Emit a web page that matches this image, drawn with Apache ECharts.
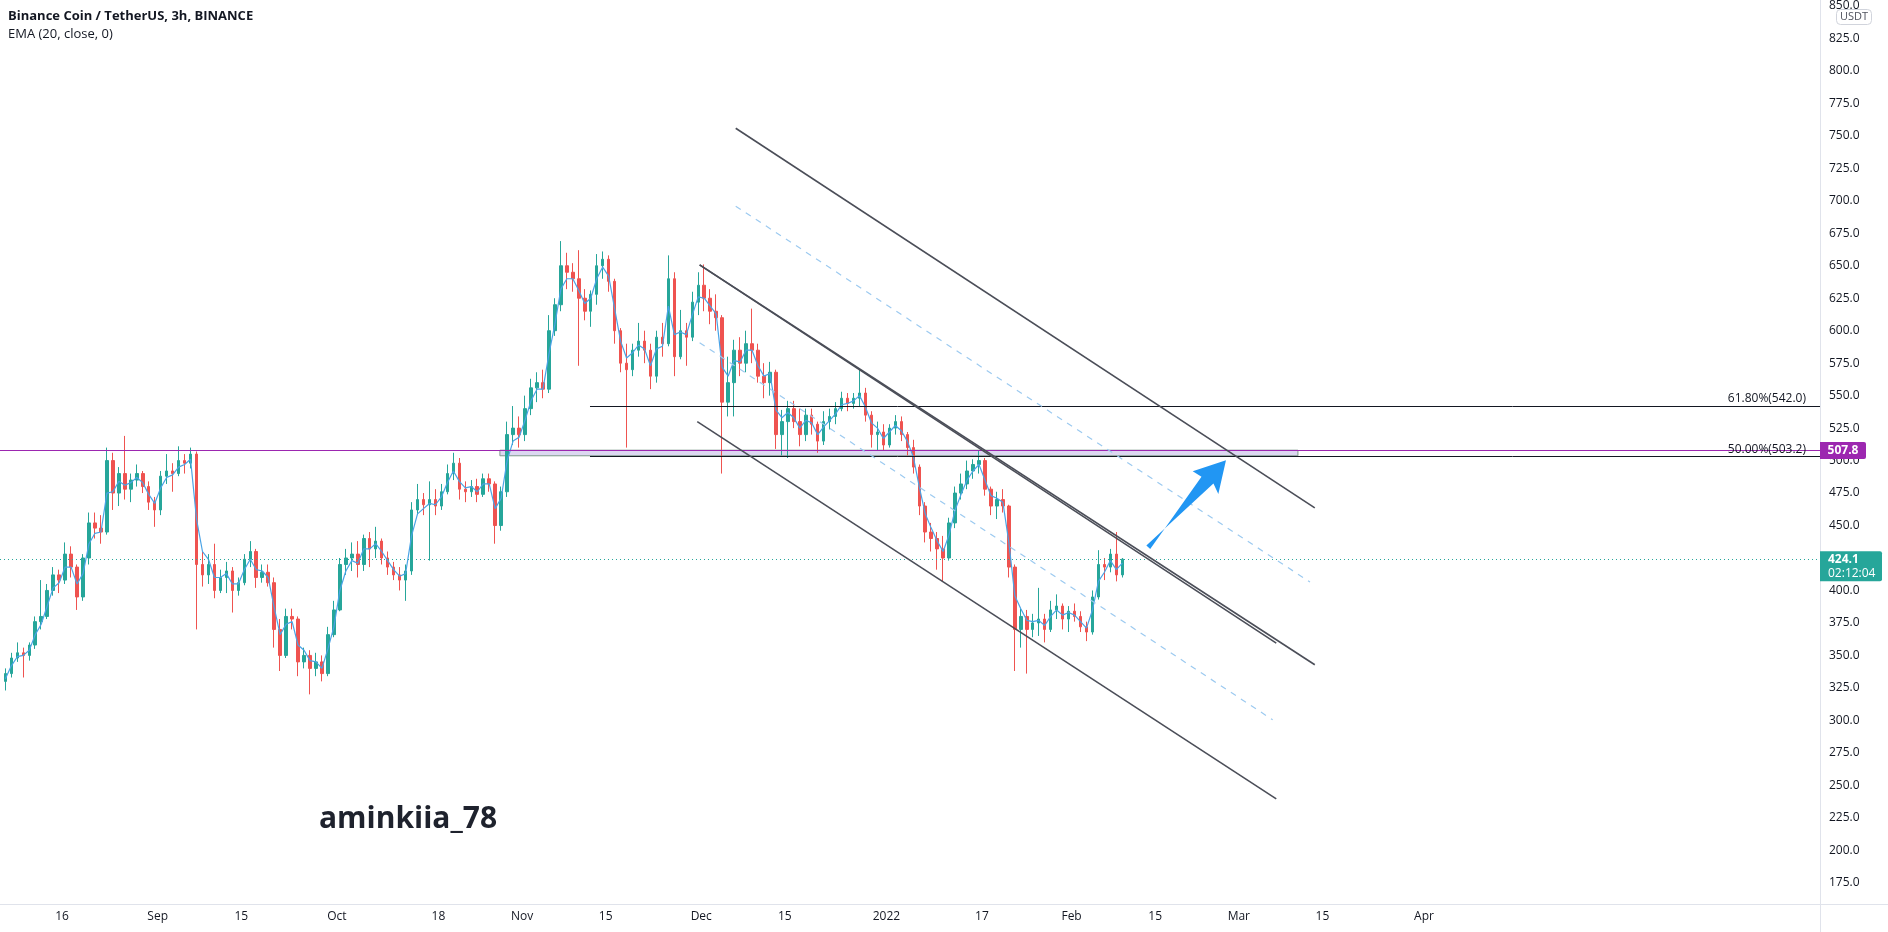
<!DOCTYPE html>
<html><head><meta charset="utf-8">
<script src="https://cdn.jsdelivr.net/npm/echarts@6/dist/echarts.min.js"></script>
<style>html,body{margin:0;padding:0;background:#fff;}#c{width:1888px;height:932px;}</style>
</head><body><div id="c"></div>
<script>
// ---------- DATA (daily OHLC, from 2021-08-06) ----------
const startDay = '2021-08-06';
const opens = [
330,336,348,352,350,358,376,380,400,412,408,428,418,395,425,452,448,445,500,475,490,478,485,490,480,468,
462,488,492,490,500,498,505,420,412,420,400,410,415,400,406,424,430,410,414,406,370,350,380,378,345,350,340,345,336,366,
385,420,425,428,420,440,432,438,425,418,412,408,415,462,470,466,470,465,476,490,498,478,476,480,474,486,482,450,476,520,525,
520,540,556,560,555,600,620,650,645,640,625,615,628,650,655,638,600,575,570,585,592,585,565,595,590,640,580,600,595,622,
635,625,615,610,545,560,585,575,590,585,565,560,568,520,530,540,530,520,535,528,515,530,534,540,548,544,548,552,535,520,522,
512,525,530,520,510,495,465,445,440,432,425,452,475,482,492,497,500,478,465,470,465,418,370,380,370,375,378,370,385,388,378,
384,380,372,368,395,420,418,428,412];
const highs = [
340,352,360,356,360,380,408,405,418,416,437,434,420,428,460,460,458,510,506,495,519,490,497,492,484,472,
492,505,498,511,505,510,507,430,428,436,416,422,418,410,428,438,432,420,420,410,378,386,386,380,356,354,352,350,372,392,
425,432,437,438,443,445,449,440,430,422,418,420,468,482,475,484,478,482,497,506,502,484,485,486,490,490,484,480,530,542,534,
550,563,568,570,612,625,669,660,652,662,632,631,659,661,658,640,602,590,590,606,600,590,600,606,658,645,616,606,630,645,
651,632,628,612,580,593,595,600,617,590,575,576,570,539,546,546,540,540,540,530,538,540,545,553,552,552,571,556,538,530,528,
528,535,534,522,516,497,468,452,445,442,456,480,490,500,501,508,502,480,476,478,466,420,386,385,382,402,382,392,397,390,388,
390,384,376,400,431,425,432,445,425];
const lows = [
323,333,345,333,346,355,370,378,396,398,405,410,385,392,420,440,436,443,462,465,470,468,480,475,462,449,
458,482,476,488,490,494,370,403,405,394,398,398,383,396,404,418,402,406,403,356,338,348,370,334,340,320,334,330,334,364,
384,412,415,410,415,418,425,420,412,408,400,392,412,458,458,423,458,462,474,485,470,468,472,468,472,476,436,446,472,512,510,
515,535,545,548,552,596,615,632,630,573,608,603,620,640,630,590,568,510,565,580,575,555,560,580,588,565,578,573,592,612,
615,605,600,490,534,534,565,568,575,560,548,550,509,504,502,525,511,515,520,506,512,524,528,538,538,540,542,530,510,508,508,
510,520,515,504,490,458,437,430,416,407,423,448,470,478,486,490,473,458,455,460,410,338,356,336,364,365,360,368,378,370,368,
376,368,361,366,393,408,414,407,410];
const closes = [
336,348,352,350,358,376,380,400,412,408,428,418,395,425,452,448,445,500,475,490,478,485,490,480,468,462,
488,492,490,500,498,505,420,412,420,400,410,415,400,406,424,430,410,414,406,370,350,380,378,345,350,340,345,336,366,385,
420,425,428,420,440,432,438,425,418,412,408,415,462,470,466,470,465,476,490,498,478,476,480,474,486,482,450,476,520,525,520,
540,556,560,555,600,620,650,645,640,625,615,628,650,655,638,600,575,570,585,592,585,565,595,590,640,580,600,595,622,635,
625,615,610,545,560,585,575,590,585,565,560,568,520,530,540,530,520,535,528,515,530,534,540,548,544,548,552,535,520,522,512,
525,530,520,510,495,465,445,440,432,425,452,475,482,492,497,500,478,465,470,465,418,370,380,370,375,378,370,385,388,378,384,
380,372,368,395,420,418,428,412,424.1];
const ema20 = [
332,342,349,350,354,366,374,388,402,406,418,418,405,413,436,444,445,475,476,484,481,483,487,483,474,467,
479,487,489,495,497,501,455,430,424,410,410,413,405,405,416,424,416,415,410,387,366,374,376,358,354,346,345,340,355,372,
400,415,423,421,432,432,436,430,423,416,411,413,442,459,463,467,466,472,483,492,484,479,480,476,482,482,463,471,500,515,518,
531,546,555,555,582,605,632,640,640,631,621,625,640,649,642,617,592,579,583,589,586,573,586,588,619,597,599,597,612,626,
625,619,613,572,565,577,576,585,585,573,565,567,539,533,537,533,525,531,529,520,526,531,536,543,544,546,550,541,529,525,517,
522,527,523,515,503,480,459,448,438,430,443,462,474,485,492,497,485,473,471,468,437,396,386,377,376,377,373,380,385,381,383,
381,376,371,385,407,414,423,416,421];

const yTicks = [175,200,225,250,275,300,325,350,375,400,425,450,475,500,525,550,575,600,625,650,675,700,725,750,775,800,825,850];
const xTickDates  = ['2021-08-16','2021-09-01','2021-09-15','2021-10-01','2021-10-18','2021-11-01','2021-11-15','2021-12-01','2021-12-15','2022-01-01','2022-01-17','2022-02-01','2022-02-15','2022-03-01','2022-03-15','2022-04-01'];
const xTickLabels = ['16','Sep','15','Oct','18','Nov','15','Dec','15','2022','17','Feb','15','Mar','15','Apr'];

const lastPrice = 424.1, lastTimer = '02:12:04';
const markPrice = 507.8;
const fibLevels = [['61.80%', 542.0], ['50.00%', 503.2]];
const fibStart = '2021-11-12 09:00';
const zone = ['2021-10-28 07:00', '2022-03-10 21:30', 503.7, 508.0];
const channelLines = [
  ['2021-12-06 18:30', 755.9, '2022-03-13 17:15', 463.6],
  ['2021-11-30 17:30', 650.7, '2022-03-07 06:30', 359.4],
  ['2021-11-30 17:30', 650.7, '2022-03-13 17:15', 342.8],
  ['2021-11-30 08:00', 530.0, '2022-03-07 06:30', 239.5]
];
const dashedLines = [
  ['2021-12-06 18:30', 695.9, '2022-03-12 22:00', 406.5],
  ['2021-11-30 17:30', 590.8, '2022-03-06 16:00', 300.4]
];
const arrowPts = [
  ['2022-02-13 12:30', 434.6], ['2022-02-24 18:00', 482.3], ['2022-02-25 13:40', 474.3],
  ['2022-02-26 20:25', 500.3], ['2022-02-21 06:45', 491.7], ['2022-02-22 18:00', 487.6],
  ['2022-02-14 04:00', 432.0]
];
const xRange = ['2021-08-05 14:24', '2022-06-06 07:12'];
const yRange = [158.6, 850.8];

// ---------- helpers ----------
function t(s){ const p = s.split(' '); return +new Date(p[0] + 'T' + (p[1] || '00:00') + ':00'); }
const DAY = 86400000;
const t0 = t(startDay + ' 12:00');
const candleData = opens.map((o,i)=>[t0 + i*DAY, o, closes[i], lows[i], highs[i]]);
const emaData = ema20.map((v,i)=>[t0 + i*DAY, v]);
const xMin = t(xRange[0]), xMax = t(xRange[1]);
const xTickVals = xTickDates.map(d=>t(d));

const UP = '#26a69a', DOWN = '#ef5350', TXT = '#131722';
const FONT = "'Open Sans', 'Noto Sans', sans-serif";

const chart = echarts.init(document.getElementById('c'), null, {renderer:'canvas'});

const series = [
  {
    type:'candlestick', data:candleData, barWidth:3, z:3,
    itemStyle:{color:UP, color0:DOWN, borderColor:UP, borderColor0:DOWN, borderWidth:1},
    markLine:{
      silent:true, symbol:['none','none'], animation:false,
      data:[
        {yAxis:markPrice, lineStyle:{color:'#9c27b0', width:1, type:'solid'}, label:{show:false}},
        {yAxis:lastPrice, lineStyle:{color:UP, width:1, type:[1,3]}, label:{show:false}}
      ].concat(fibLevels.map(f=>[
        {coord:[t(fibStart), f[1]], lineStyle:{color:TXT, width:1, type:'solid'},
         label:{show:true, position:'insideEndTop', formatter:f[0]+'('+f[1].toFixed(1)+')', color:TXT, fontSize:12, fontFamily:FONT, distance:[14,1]}},
        {coord:[xMax, f[1]]}
      ]))
    },
    markArea:{
      silent:true,
      itemStyle:{color:'rgba(214,208,238,0.85)', borderColor:'#7f9a8c', borderWidth:1},
      data:[[{coord:[t(zone[0]), zone[3]]},{coord:[t(zone[1]), zone[2]]}]]
    }
  },
  {
    type:'line', data:emaData, showSymbol:false, z:4, silent:true,
    lineStyle:{color:'#4aa3e6', width:1.2}
  }
];
channelLines.forEach(l=>series.push({
  type:'line', data:[[t(l[0]),l[1]],[t(l[2]),l[3]]], showSymbol:false, silent:true, z:5,
  lineStyle:{color:'#4b4e58', width:1.6}
}));
dashedLines.forEach(l=>series.push({
  type:'line', data:[[t(l[0]),l[1]],[t(l[2]),l[3]]], showSymbol:false, silent:true, z:5,
  lineStyle:{color:'#9ccaf0', width:1.2, type:[6,6]}
}));
series.push({
  type:'custom', silent:true, z:6, clip:false,
  data:[[t(arrowPts[0][0]), arrowPts[0][1]]],
  renderItem:(params, api)=>({
    type:'polygon',
    shape:{points: arrowPts.map(p=>api.coord([t(p[0]), p[1]]))},
    style:{fill:'#2196f3'}
  })
});

chart.setOption({
  animation:false,
  backgroundColor:'#ffffff',
  textStyle:{fontFamily:FONT},
  grid:{left:0, right:68, top:0, bottom:28, containLabel:false},
  xAxis:{
    type:'time', min:xMin, max:xMax,
    axisLine:{show:false}, axisTick:{show:false}, splitLine:{show:false},
    axisLabel:{show:false}
  },
  yAxis:{
    type:'value', position:'right', min:yRange[0], max:yRange[1], scale:true,
    axisLine:{show:false}, axisTick:{show:false}, splitLine:{show:false},
    axisLabel:{customValues:yTicks, margin:9, color:TXT, fontSize:12, fontFamily:FONT, formatter:v=>v.toFixed(1), showMinLabel:true, showMaxLabel:true}
  },
  series:series
});

// overlay chrome: title, watermark, axis separators, price tags, time labels
const yM = chart.convertToPixel({yAxisIndex:0}, markPrice);
const yL = chart.convertToPixel({yAxisIndex:0}, lastPrice);
const axX = chart.convertToPixel({xAxisIndex:0}, xMax);
const gfx = [
  {type:'line', shape:{x1:0, y1:904.5, x2:1888, y2:904.5}, style:{stroke:'#e0e3eb', lineWidth:1}, z:50, silent:true},
  {type:'line', shape:{x1:axX+0.5, y1:0, x2:axX+0.5, y2:932}, style:{stroke:'#e0e3eb', lineWidth:1}, z:50, silent:true},
  {type:'text', x:8, y:16, style:{text:'Binance Coin / TetherUS, 3h, BINANCE', fill:TXT, font:"bold 13px "+FONT, textVerticalAlign:'middle'}, z:60},
  {type:'text', x:8, y:34, style:{text:'EMA (20, close, 0)', fill:TXT, font:"13px "+FONT, textVerticalAlign:'middle'}, z:60},
  {type:'text', x:319, y:819, style:{text:'aminkiia_78', fill:'#1e222d', font:"bold 30px "+FONT, textVerticalAlign:'middle'}, z:60},
  {type:'rect', shape:{x:1836.5, y:9.5, width:35, height:15, r:4}, style:{fill:'#fff', stroke:'#d1d4dc', lineWidth:1}, z:60},
  {type:'text', x:1854, y:17, style:{text:'USDT', fill:'#50535e', font:"11px "+FONT, textAlign:'center', textVerticalAlign:'middle'}, z:61},
  {type:'rect', shape:{x:axX, y:yM-8.5, width:46, height:17, r:[0,2,2,0]}, style:{fill:'#9c27b0'}, z:70},
  {type:'text', x:axX+23, y:yM, style:{text:markPrice.toFixed(1), fill:'#fff', font:"bold 12px "+FONT, textAlign:'center', textVerticalAlign:'middle'}, z:71},
  {type:'rect', shape:{x:axX, y:yL-8, width:62, height:30, r:[0,2,2,0]}, style:{fill:UP}, z:70},
  {type:'text', x:axX+8, y:yL+0.5, style:{text:lastPrice.toFixed(1), fill:'#fff', font:"bold 12px "+FONT, textVerticalAlign:'middle'}, z:71},
  {type:'text', x:axX+8, y:yL+14.5, style:{text:lastTimer, fill:'#fff', font:"12px "+FONT, textVerticalAlign:'middle'}, z:71}
];
xTickVals.forEach((v,i)=>{
  gfx.push({type:'text', x:chart.convertToPixel({xAxisIndex:0}, v), y:917,
    style:{text:xTickLabels[i], fill:TXT, font:"12px "+FONT, textAlign:'center', textVerticalAlign:'middle'}, z:60});
});
chart.setOption({graphic:gfx});
</script></body></html>
